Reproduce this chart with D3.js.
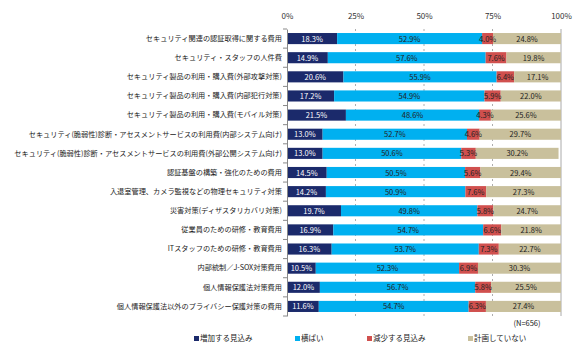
<!DOCTYPE html>
<html><head><meta charset="utf-8">
<script src="https://cdn.jsdelivr.net/npm/d3@7"></script>
<style>body{margin:0;background:#fff}text{font-family:"Noto Sans CJK JP",sans-serif}</style>
</head><body><svg id="c" width="579" height="355"></svg>
<script>
const categories = [
"セキュリティ関連の認証取得に関する費用",
"セキュリティ・スタッフの人件費",
"セキュリティ製品の利用・購入費(外部攻撃対策)",
"セキュリティ製品の利用・購入費(内部犯行対策)",
"セキュリティ製品の利用・購入費(モバイル対策)",
"セキュリティ(脆弱性)診断・アセスメントサービスの利用費(内部システム向け)",
"セキュリティ(脆弱性)診断・アセスメントサービスの利用費(外部公開システム向け)",
"認証基盤の構築・強化のための費用",
"入退室管理、カメラ監視などの物理セキュリティ対策",
"災害対策(ディザスタリカバリ対策)",
"従業員のための研修・教育費用",
"ITスタッフのための研修・教育費用",
"内部統制／J-SOX対策費用",
"個人情報保護法対策費用",
"個人情報保護法以外のプライバシー保護対策の費用"];
const seriesNames = ["増加する見込み","横ばい","減少する見込み","計画していない"];
const increase = [18.3,14.9,20.6,17.2,21.5,13.0,13.0,14.5,14.2,19.7,16.9,16.3,10.5,12.0,11.6];
const flat     = [52.9,57.6,55.9,54.9,48.6,52.7,50.6,50.5,50.9,49.8,54.7,53.7,52.3,56.7,54.7];
const decrease = [4.0,7.6,6.4,5.9,4.3,4.6,5.3,5.6,7.6,5.8,6.6,7.3,6.9,5.8,6.3];
const noPlan   = [24.8,19.8,17.1,22.0,25.6,29.7,30.2,29.4,27.3,24.7,21.8,22.7,30.3,25.5,27.4];
const tickValues = [0,25,50,75,100];
const note = "(N=656)";

const colors = ["#1B2A6B","#00B0F0","#D0504E","#C9C09C"];
const textColors = ["#fff","#222","#222","#222"];
const svg = d3.select("#c");
const x = d3.scaleLinear().domain([0,100]).range([287,561]);
const y = d3.scaleBand().domain(categories).range([29,316]).paddingInner(0.42).paddingOuter(0.21);

// gridlines
svg.append("g").selectAll("line").data([25,50,75]).join("line")
  .attr("x1",d=>x(d)).attr("x2",d=>x(d)).attr("y1",29).attr("y2",316)
  .attr("stroke","#999").attr("stroke-dasharray","2,3").attr("stroke-width",0.8);
svg.append("line").attr("x1",x(100)).attr("x2",x(100)).attr("y1",29).attr("y2",316).attr("stroke","#aaa");

// top axis labels
svg.append("g").attr("transform","translate(0,22)")
  .call(d3.axisTop(x).tickValues(tickValues).tickFormat(d=>d+"%").tickSize(0))
  .call(g=>g.select(".domain").remove())
  .call(g=>g.selectAll("text").attr("font-size",8).attr("fill","#333").attr("font-family","Arial, 'Liberation Sans', sans-serif"));

const series = [increase,flat,decrease,noPlan];
const rows = categories.map((c,i)=>{let acc=0;return series.map((s,k)=>{const v=s[i];const r={c,k,x0:acc,x1:acc+v,v};acc+=v;return r;});});
const g = svg.append("g");
rows.forEach(r=>{
  g.selectAll(null).data(r).enter().append("rect")
   .attr("x",d=>x(d.x0)).attr("width",d=>x(d.x1)-x(d.x0))
   .attr("y",d=>y(d.c)).attr("height",y.bandwidth()).attr("fill",d=>colors[d.k]);
});
rows.forEach(r=>{
  g.selectAll(null).data(r).enter().append("text")
   .attr("x",d=>x((d.x0+d.x1)/2)).attr("y",d=>y(d.c)+y.bandwidth()/2+3)
   .attr("text-anchor","middle").attr("font-size",7.5).attr("fill",d=>textColors[d.k])
   .attr("font-family","Arial, 'Liberation Sans', sans-serif")
   .text(d=>d.v.toFixed(1)+"%");
});

// left axis
svg.append("g").attr("transform","translate(287,0)")
  .call(d3.axisLeft(y).tickSize(0).tickPadding(5))
  .call(g=>g.select(".domain").attr("stroke","#888"))
  .call(g=>g.selectAll("text").attr("font-size",7.2).attr("fill","#222"));
const bounds = d3.range(categories.length+1).map(i=>29+i*(316-29)/categories.length);
svg.append("g").selectAll("line").data(bounds).join("line")
  .attr("x1",283).attr("x2",287).attr("y1",d=>d).attr("y2",d=>d).attr("stroke","#888");

svg.append("text").attr("x",527).attr("y",326).attr("text-anchor","middle").attr("font-size",7.5)
  .attr("font-family","Arial, 'Liberation Sans', sans-serif").attr("fill","#222").text(note);

// legend
const lx = [194,295,367,468];
const lg = svg.append("g").selectAll("g").data(seriesNames).join("g")
  .attr("transform",(d,i)=>`translate(${lx[i]},341)`);
lg.append("rect").attr("x",0).attr("y",-5).attr("width",5).attr("height",5).attr("fill",(d,i)=>colors[i]);
lg.append("text").attr("x",6).attr("y",0).attr("font-size",7.5).attr("fill","#222").text(d=>d);
</script></body></html>
